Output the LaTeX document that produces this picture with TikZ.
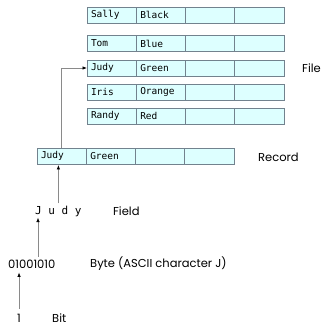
\documentclass[tikz,border=0pt]{standalone}
\usepackage{fontspec}
\setmainfont{Poppins}
\setmonofont{DejaVu Sans Mono}
\usetikzlibrary{positioning, arrows.meta}
\definecolor{cellfill}{HTML}{DDFFFF}
\definecolor{cellline}{HTML}{72828E}
\definecolor{linkgray}{HTML}{8A8A8A}

\begin{document}
\begin{tikzpicture}[x=1pt, y=-1pt,
    cell/.style={draw=cellline, fill=cellfill, line width=0.9pt, text width=41.25pt, minimum height=16pt,
        inner xsep=4pt, inner ysep=0pt, outer sep=0pt, align=left, anchor=west,
        font=\ttfamily\fontsize{9.5}{10}\selectfont},
    tag/.style={anchor=west, inner sep=0pt, font=\fontsize{11.5}{13}\selectfont},
    link/.style={draw=linkgray, line width=0.7pt, -{Latex[black, length=4.5pt, width=3.5pt]}}]
    \useasboundingbox (0,0) rectangle (322,328);
    % the file, one record per row
    \foreach \name/\colour/\y [count=\i] in {Sally/Black/15, Tom/Blue/43.5, Judy/Green/68, Iris/Orange/92, Randy/Red/116} {
        \node[cell] (row\i-1) at (87,\y) {\name};
        \node[cell, right=0pt of row\i-1] (row\i-2) {\colour};
        \node[cell, right=0pt of row\i-2] (row\i-3) {};
        \node[cell, right=0pt of row\i-3] (row\i-4) {};
    }
    \node[tag] (file) at (302,68) {File};
    % one record
    \node[cell] (rec1) at (37,156) {Judy};
    \node[cell, right=0pt of rec1] (rec2) {Green};
    \node[cell, right=0pt of rec2] (rec3) {};
    \node[cell, right=0pt of rec3] (rec4) {};
    \node[tag] (record) at (258,157) {Record};
    % field, byte, bit
    \node[tag, font=\ttfamily\fontsize{11}{12}\selectfont] (field) at (35,211) {J u d y};
    \node[tag] (fieldlbl) at (113,211) {Field};
    \node[tag] (byte) at (8,264) {01001010};
    \node[tag] (bytelbl) at (90,264) {Byte (ASCII character J)};
    \node[tag] (bit) at (17,318) {1};
    \node[tag] (bitlbl) at (52,318) {Bit};
    % the arrows
    \draw[link, shorten <=5pt, shorten >=4pt] (bit.north) -- (bit.north |- byte.south);
    \draw[link, shorten <=3pt, shorten >=1pt] ([xshift=3pt]field.south west |- byte.north) -- ([xshift=3pt]field.south west);
    \draw[link, shorten <=2pt, shorten >=1pt] (field.north) -- (field.north |- rec1.south);
    \draw[link] (rec1.north) |- (row3-1.west);
\end{tikzpicture}
\end{document}
